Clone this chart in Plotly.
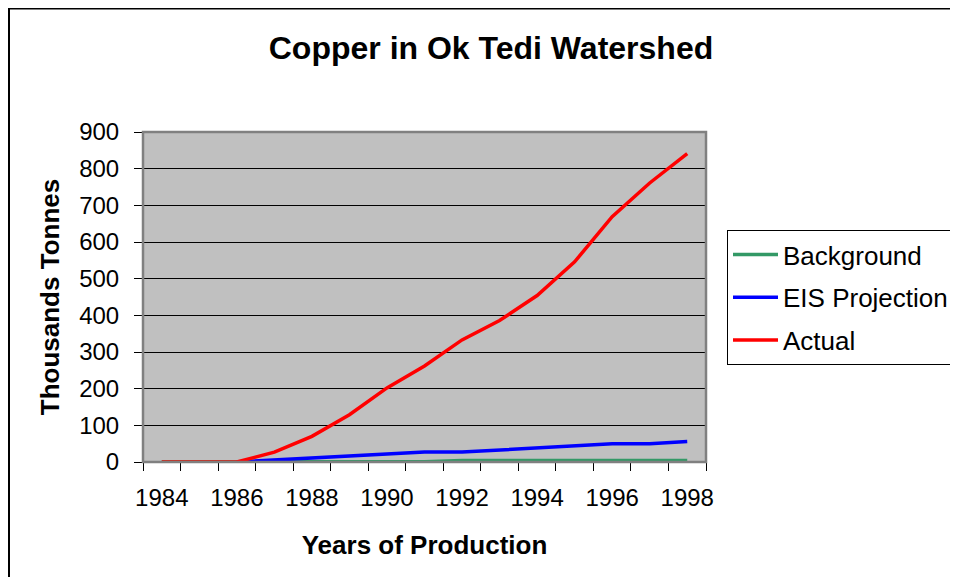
import plotly.graph_objects as go

years = list(range(1984, 1999))
background = [1, 1, 1, 1, 1, 1, 1, 1, 4, 4, 4, 4, 4, 4, 4]
eis_projection = [None, None, 0, 5, 10, 15, 20, 27, 27, 33, 39, 44, 50, 50, 56]
actual = [0, 0, 0, 27, 70, 129, 202, 262, 333, 386, 454, 546, 669, 761, 841]
tick_labels = ["1984", "1986", "1988", "1990", "1992", "1994", "1996", "1998"]
tick_years = [1984, 1986, 1988, 1990, 1992, 1994, 1996, 1998]

FONT = "Liberation Sans, Arial, sans-serif"

fig = go.Figure()
series = [
    ("Background", background, "#339966"),
    ("EIS Projection", eis_projection, "#0000FF"),
    ("Actual", actual, "#FF0000"),
]
for name, vals, color in series:
    fig.add_trace(go.Scatter(
        x=years, y=vals, name=name, mode="lines",
        line=dict(color=color, width=3.5),
        legendgroup=name,
    ))

# page body has an 8px margin, so figure coordinates are screen - 8
OFF = 8
W, H = 958 - OFF, 585 - 2 * OFF
L, R, T, B = 143 - OFF, 706 - OFF, 132 - OFF, 462 - OFF
fig.update_layout(
    width=W, height=H,
    margin=dict(l=L, r=W - R, t=T, b=H - B, pad=0, autoexpand=False),
    paper_bgcolor="white",
    plot_bgcolor="#C0C0C0",
    font=dict(family=FONT, color="black", size=24),
    title=dict(
        text="<b>Copper in Ok Tedi Watershed</b>",
        x=(491 - OFF) / W, xref="container", xanchor="center",
        y=1 - (48 - OFF) / H, yref="container", yanchor="middle",
        font=dict(size=32, family=FONT, color="black"),
    ),
    showlegend=True,
    legend=dict(
        x=(727 - 143) / (706 - 143), xanchor="left",
        y=(462 - 230) / (462 - 132), yanchor="top",
        bgcolor="white", bordercolor="black", borderwidth=1,
        font=dict(size=26, family=FONT, color="black"),
        tracegroupgap=6,
        itemwidth=45,
        traceorder="grouped",
    ),
)

fig.update_xaxes(
    range=[1983.5, 1998.5],
    tickmode="array", tickvals=tick_years, ticktext=tick_labels,
    ticks="outside", ticklen=0, tickcolor="black",
    tickfont=dict(size=24, family=FONT, color="black"),
    ticklabelstandoff=14,
    minor=dict(tickmode="linear", tick0=1983.5, dtick=1, ticks="outside",
               ticklen=8, tickcolor="black", tickwidth=1, showgrid=False),
    showgrid=False, zeroline=False,
    showline=True, linecolor="black", linewidth=1,
    title=dict(text="<b>Years of Production</b>",
               font=dict(size=26, family=FONT, color="black"), standoff=26),
)
fig.update_yaxes(
    range=[0, 900], dtick=100, tick0=0,
    ticks="outside", ticklen=8, tickcolor="black", tickwidth=1,
    tickfont=dict(size=24, family=FONT, color="black"),
    ticklabelstandoff=10,
    showgrid=True, gridcolor="black", gridwidth=1,
    zeroline=False,
    showline=True, linecolor="black", linewidth=1,
    title=dict(text="<b>Thousands Tonnes</b>",
               font=dict(size=26, family=FONT, color="black"), standoff=12),
)

# plot area frame
fig.add_shape(type="rect", xref="paper", yref="paper", x0=0, x1=1, y0=0, y1=1,
              line=dict(color="#808080", width=2.5), layer="above")
# outer chart border: only left and top edges are inside the image
bx = (1 - L) / (R - L)
by = (B - 0.5) / (B - T)
fig.add_shape(type="path", xref="paper", yref="paper",
              path=f"M {bx},-0.8 L {bx},{by} L 1.8,{by}",
              line=dict(color="black", width=2), layer="below")

fig.write_html("out.html")
